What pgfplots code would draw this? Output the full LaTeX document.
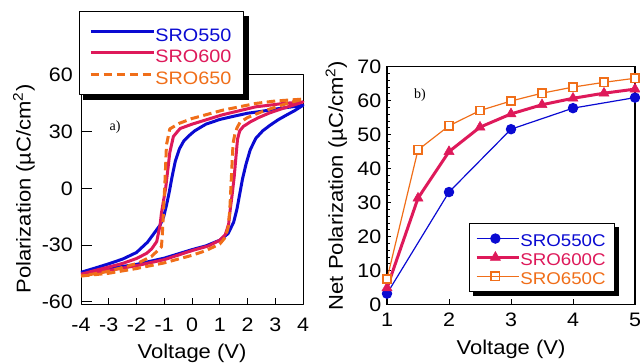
\documentclass[border=0pt]{standalone}
\usepackage{pgfplots}
\pgfplotsset{compat=1.18}
\usepackage{fontspec}
\setmainfont[FakeStretch=1.1]{Liberation Sans}
\newfontfamily\seriffont{Liberation Serif}
\definecolor{cblue}{RGB}{10,10,210}
\definecolor{ccrim}{RGB}{222,25,90}
\definecolor{corange}{RGB}{240,110,25}
\newcommand\labf{\fontsize{20}{23}\selectfont}
\newcommand\tickf{\fontsize{19.5}{22}\selectfont}
\begin{document}
\begin{tikzpicture}[x=1pt,y=1pt]
\useasboundingbox (0,0) rectangle (640,364);
% ---------------- panel a ----------------
\begin{axis}[at={(81pt,60pt)}, anchor=south west, scale only axis,
  width=222pt, height=230pt,
  xmin=-4, xmax=4, ymin=-61.3, ymax=60.6,
  xtick={-4,-3,...,4}, ytick={-60,-30,0,30,60},
  tick align=inside, xtick pos=bottom, ytick pos=left,
  xtick style={black, line width=0.8pt, /pgfplots/major tick length=6pt},
  ytick style={black, line width=0.8pt, /pgfplots/major tick length=11pt},
  axis line style={line width=0.9pt},
  /pgf/number format/assume math mode=true,
  tick label style={font=\tickf},
  xticklabel style={anchor=base, inner sep=0pt, yshift=-27.5pt},
  yticklabel style={anchor=east, inner sep=0pt, xshift=-8pt},
  label style={font=\labf},
  xlabel={Voltage (V)},
  xlabel style={at={(axis description cs:0.5,-0.235)}, anchor=base},
  ylabel={Polarization (µC/cm\textsuperscript{2})},
  ylabel style={at={(axis description cs:-0.257,0.5)}, anchor=center},
  clip=false,
  legend style={at={(axis description cs:-0.009,1.274)}, anchor=north west,
    draw=black, line width=0.8pt, fill=white, font=\fontsize{18}{21}\selectfont,
    inner xsep=10pt, inner ysep=8pt, row sep=-1.9pt,
    nodes={inner sep=0pt, text height=22pt, text width=78pt, align=left}},
  legend cell align=left,
  legend image code/.code={\draw[#1] (0pt,0pt) -- (58pt,0pt); \path (0pt,0pt) -- (63pt,0pt);},
  line join=round,
]
% legend drop shadow (decoration, drawn before the legend box)
\fill[black] (axis description cs:0.009,0.889) rectangle (axis description cs:0.757,1.2543);
\addplot[cblue, line width=3pt] coordinates {
(-4,-44.5) (-3,-42.5) (-2,-40.3) (-1,-37) (0,-32.5) (0.5,-30.5) (1,-27.5) (1.3,-24)
(1.5,-18) (1.62,-11) (1.72,-3) (1.82,5) (1.95,13) (2.1,20.5) (2.3,26.5) (2.55,30.5)
(2.8,33.3) (3.1,36.3) (3.4,38.8) (3.7,41.2) (4,44)
(3.5,43) (3,42) (2.5,40.8) (2,39.8) (1.5,38.2) (1,36.5) (0.5,34) (0.1,30.5) (-0.1,28)
(-0.3,25) (-0.45,21) (-0.6,14.5) (-0.72,6) (-0.82,-2) (-0.92,-9) (-1.02,-15) (-1.15,-19.5)
(-1.35,-23.5) (-1.6,-28.5) (-2,-34) (-2.5,-37.5) (-3,-40) (-3.5,-42.3) (-4,-44.5)};
\addlegendentry{\textcolor{cblue}{SRO550}}
\addplot[ccrim, line width=3pt] coordinates {
(-4,-45.5) (-3,-43.5) (-2,-41) (-1,-37.8) (0,-33) (0.6,-30.5) (1,-27.5) (1.2,-24.5)
(1.32,-19) (1.38,-11) (1.45,-3) (1.52,6) (1.58,16) (1.64,26) (1.72,30.5) (1.85,32.8)
(2.1,35.2) (2.4,37.5) (2.8,40) (3.3,42.5) (3.7,44.3) (4,45.8)
(3.3,45) (2.3,43.2) (1.1,39) (0,34) (-0.43,31.7) (-0.67,27.5) (-0.8,19) (-0.87,10)
(-0.95,0) (-1.02,-6) (-1.1,-13) (-1.15,-19.4) (-1.27,-28.2) (-1.45,-32) (-1.63,-34.4)
(-2,-37.2) (-2.5,-39.8) (-3.3,-42.8) (-4,-45.5)};
\addlegendentry{\textcolor{ccrim}{SRO600}}
\addplot[corange, line width=3pt, dash pattern=on 8.5pt off 4.5pt] coordinates {
(-4,-46.5) (-3,-45) (-2,-42.5) (-1,-39.5) (0,-35.5) (0.5,-33) (1,-29.5) (1.2,-26)
(1.3,-21) (1.36,-12) (1.4,0) (1.44,12) (1.48,24) (1.55,29) (1.62,32) (1.73,35)
(2,37.5) (2.5,40.5) (3,43) (3.5,45.3) (4,47.3)
(3,46.3) (2.3,45) (1.1,41.4) (0,37) (-0.45,34.5) (-0.8,31.5) (-0.92,23) (-0.97,5)
(-1.02,-10) (-1.06,-22) (-1.1,-31) (-1.45,-36) (-1.96,-39.7) (-3,-44) (-4,-46.5)};
\addlegendentry{\textcolor{corange}{SRO650}}
\node[font=\seriffont\fontsize{14}{14}\selectfont] at (axis cs:-2.77,32.4) {a)};
\end{axis}
% ---------------- panel b ----------------
\begin{axis}[at={(387pt,59.5pt)}, anchor=south west, scale only axis,
  width=248pt, height=237.8pt,
  xmin=1, xmax=5, ymin=0, ymax=70,
  xtick={1,2,3,4,5}, ytick={0,10,...,70}, minor y tick num=4,
  tick align=inside, xtick pos=bottom, ytick pos=left,
  xtick style={black, line width=0.8pt, /pgfplots/major tick length=5pt},
  ytick style={black, line width=0.8pt, /pgfplots/major tick length=4pt, /pgfplots/minor tick length=2.7pt},
  axis line style={line width=1.1pt},
  /pgf/number format/assume math mode=true,
  tick label style={font=\tickf},
  xticklabel style={anchor=base, inner sep=0pt, yshift=-22pt},
  yticklabel style={anchor=east, inner sep=0pt, xshift=-5.5pt},
  label style={font=\labf},
  xlabel={Voltage (V)},
  xlabel style={at={(axis description cs:0.5,-0.212)}, anchor=base},
  ylabel={Net Polarization (µC/cm\textsuperscript{2})},
  ylabel style={at={(axis description cs:-0.204,0.5)}, anchor=center},
  clip=false,
  legend style={at={(axis description cs:0.3306,0.344)}, anchor=north west,
    draw=black, line width=0.8pt, fill=white, font=\fontsize{17}{19}\selectfont,
    inner xsep=6pt, inner ysep=5.7pt, row sep=-0.7pt,
    nodes={inner sep=0pt, text height=18pt, text width=88pt, align=left}},
  legend cell align=left,
  legend image code/.code={\draw[mark repeat=2,mark phase=2,#1] plot coordinates {(0pt,0pt) (18.5pt,0pt) (37pt,0pt)}; \path (0pt,0pt) -- (42pt,0pt);},
]
\fill[black] (axis description cs:0.3468,0.0378) rectangle (axis description cs:0.9355,0.3238);
\addplot[cblue, line width=1.2pt, mark=*, mark size=4.6pt] coordinates {
(1,3.2) (2,33.1) (3,51.6) (4,57.8) (5,60.9)};
\addlegendentry{\textcolor{cblue}{SRO550C}}
\addplot[ccrim, line width=3pt, mark=triangle*, mark size=5.8pt, mark options={line width=0.5pt}] coordinates {
(1,4.9) (1.5,31.3) (2,45.0) (2.5,52.2) (3,56.1) (3.5,58.8) (4,60.7) (4.5,62.2) (5,63.4)};
\addlegendentry{\textcolor{ccrim}{SRO600C}}
\addplot[corange, line width=1.2pt, mark=square*, mark size=4.2pt, mark options={fill=white, line width=1.5pt}] coordinates {
(1,7.5) (1.5,45.5) (2,52.6) (2.5,57.1) (3,59.9) (3.5,62.2) (4,64.0) (4.5,65.4) (5,66.6)};
\addlegendentry{\textcolor{corange}{SRO650C}}
\node[font=\seriffont\fontsize{14}{14}\selectfont] at (axis cs:1.53,61.7) {b)};
\end{axis}
\end{tikzpicture}
\end{document}
